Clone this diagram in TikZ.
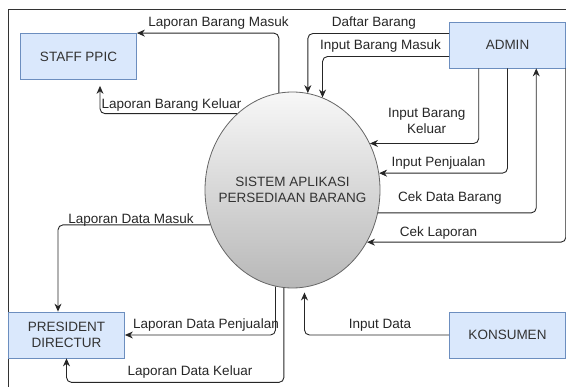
\documentclass[tikz,border=0pt]{standalone}
\usepackage{fontspec}
\setmainfont{Liberation Sans}
\usetikzlibrary{shapes.geometric,arrows.meta}
\definecolor{boxfill}{RGB}{218, 232, 252}
\definecolor{boxline}{RGB}{108, 142, 191}
\definecolor{ringline}{RGB}{102, 102, 102}

\begin{document}
\begin{tikzpicture}[x=1pt, y=-1pt,
  box/.style={rectangle, minimum width=116pt, minimum height=46pt, fill=boxfill, draw=boxline, line width=0.8pt, text=black!80, align=center, font=\fontsize{13.5}{16}\selectfont},
  lbl/.style={inner sep=0pt, anchor=base, text=black!85, font=\fontsize{13.5}{16}\selectfont},
  flow/.style={draw=black!85, line width=0.9pt, rounded corners=5pt, -{Stealth[length=8pt, width=7pt]}}]
\useasboundingbox (0,0) rectangle (566,387);
\draw [line width=0.8pt, color=black!80] (8,387) -- (8,9) -- (566,9);
\node (staff) [box] at (78.5, 56.5) {STAFF PPIC};
\node (admin) [box] at (507.5, 45) {ADMIN};
\node (president) [box] at (66.5, 335) {PRESIDENT\\DIRECTUR};
\node (konsumen) [box] at (507.5, 335) {KONSUMEN};
\node (sistem) [ellipse, minimum width=175pt, minimum height=196pt, inner sep=0pt, draw=ringline, line width=0.8pt, top color=white!97!black, bottom color=black!28, label={[align=center, text=black!80, font=\fontsize{13.5}{16}\selectfont]center:SISTEM APLIKASI\\PERSEDIAAN BARANG}] at (292.5, 190) {};
% ke staff ppic
\draw [flow] (sistem.98.5) |- (staff.north east);
\draw [flow, shorten >=6pt] (sistem.126.9) -| ([xshift=21.5pt]staff.south);
% dari admin
\draw [flow] ([yshift=11.5pt]admin.west) -| (sistem.81.5);
\draw [flow] ([yshift=-11.5pt]admin.west) -| (sistem.72.3);
\draw [flow] ([xshift=-28.75pt]admin.south) |- (sistem.31.5);
\draw [flow] (admin.south) |- (sistem.11.2);
\draw [flow] (sistem.-15.1) -| ([xshift=28.75pt]admin.south);
\draw [flow] (admin.south east) |- (sistem.-35.8);
% ke president directur
\draw [flow] (sistem.203.9) -| ([xshift=-8.5pt]president.north);
\draw [flow] (sistem.260.9) |- (president.east);
\draw [flow] (sistem.265.6) |- ([yshift=-24pt]president.south) -- (president.south);
% dari konsumen
\draw [flow, shorten >=5pt] (konsumen.west) -| (sistem.277.9);
% label
\node (l1) [lbl] at (218.5, 27) {Laporan Barang Masuk};
\node (l2) [lbl] at (171.5, 108.3) {Laporan Barang Keluar};
\node (l3) [lbl] at (374, 26.7) {Daftar Barang};
\node (l4) [lbl] at (380.5, 50) {Input Barang Masuk};
\node (l5) [lbl, anchor=center, align=center] at (426.7, 120.6) {Input Barang\\Keluar};
\node (l6) [lbl] at (438.5, 166.7) {Input Penjualan};
\node (l7) [lbl] at (450, 201.7) {Cek Data Barang};
\node (l8) [lbl] at (438.5, 236.7) {Cek Laporan};
\node (l9) [lbl] at (131, 223.3) {Laporan Data Masuk};
\node (l10) [lbl] at (206, 328.3) {Laporan Data Penjualan};
\node (l11) [lbl] at (190, 376) {Laporan Data Keluar};
\node (l12) [lbl] at (380, 328.3) {Input Data};
\end{tikzpicture}
\end{document}
